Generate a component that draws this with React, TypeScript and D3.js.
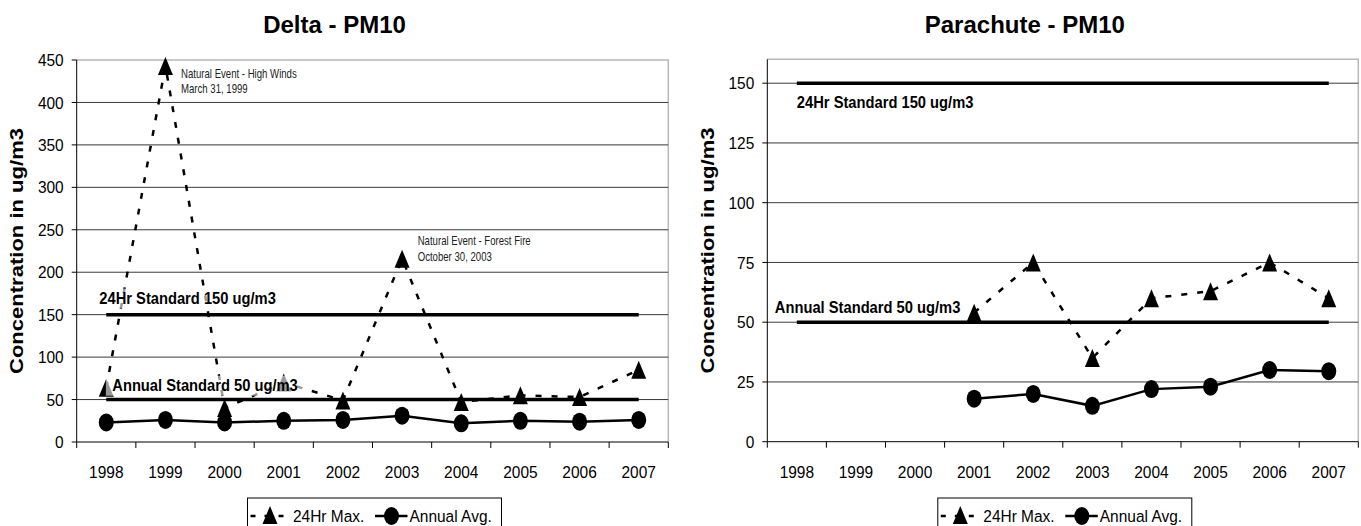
import React, { useLayoutEffect, useRef, useState } from 'react';
import * as d3 from 'd3';

const years = ['1998', '1999', '2000', '2001', '2002', '2003', '2004', '2005', '2006', '2007'];
const deltaMax: (number | null)[] = [64, 443, 40, 70, 49, 216, 47, 55, 53, 85];
const deltaAvg: (number | null)[] = [23, 26, 23, 25, 26, 31, 22, 25, 24, 26];
const parachuteMax: (number | null)[] = [null, null, null, 54, 75, 35, 60, 63, 75, 60];
const parachuteAvg: (number | null)[] = [null, null, null, 18, 20, 15, 22, 23, 30, 29.5];
const deltaTicks = [0, 50, 100, 150, 200, 250, 300, 350, 400, 450];
const parachuteTicks = [0, 25, 50, 75, 100, 125, 150];
const std24 = 150;
const stdAnnual = 50;
const std24Label = '24Hr Standard 150 ug/m3';
const stdAnnualLabel = 'Annual Standard 50 ug/m3';
const yTitle = 'Concentration in ug/m3';
const legendLabels = ['24Hr Max.', 'Annual Avg.'];
const deltaNotes = [
  { year: '1999', value: 429, lines: ['Natural Event - High Winds', 'March 31, 1999'] },
  { year: '2003', value: 232, lines: ['Natural Event - Forest Fire', 'October 30, 2003'] },
];

const FONT = '"Liberation Sans", Arial, Helvetica, sans-serif';
const DASH = '6,10';

function Tri({ x, y, w = 15, h = 18, fill = '#000' }: any) {
  return <path d={`M${x},${y - h / 2}L${x + w / 2},${y + h / 2}L${x - w / 2},${y + h / 2}Z`} fill={fill} />;
}

function NText({ x, y, children, anchor = 'start', size = 17, sx = 0.91, dy }: any) {
  return (
    <text
      transform={`translate(${x},${y}) scale(${sx},1)`}
      dy={dy}
      textAnchor={anchor}
      fontSize={size}
      fontFamily={FONT}
      fill="#000"
    >
      {children}
    </text>
  );
}

function BoxLabel({ x, y, text, sx = 0.92 }: any) {
  const ref = useRef<SVGTextElement>(null);
  const [w, setW] = useState(0);
  useLayoutEffect(() => {
    if (ref.current) setW(ref.current.getBBox().width);
  }, [text]);
  return (
    <g transform={`translate(${x},${y}) scale(${sx},1)`}>
      <rect x={-7} y={-15} width={w + 12} height={20} fill="#fff" opacity={0.6} />
      <text ref={ref} x={0} y={0} fontSize={16} fontWeight="bold" fill="#000" fontFamily={FONT}>
        {text}
      </text>
    </g>
  );
}

function Panel(props: any) {
  const { left, right, top, bottom, yMax, ticks, max, avg, title, notes, lab24, labAnn } = props;
  const x = d3.scaleBand().domain(years).range([left, right]).padding(0);
  const bw = x.bandwidth();
  const cx = (yr: string) => (x(yr) as number) + bw / 2;
  const y = d3.scaleLinear().domain([0, yMax]).range([bottom, top]);
  const line = d3
    .line<number | null>()
    .defined((d) => d != null)
    .x((_, i) => cx(years[i]))
    .y((d) => y(d as number));
  const stdLine = (v: number) => `M${cx(years[0])},${y(v)}H${cx(years[years.length - 1])}`;
  const plotCenter = (left + right) / 2;
  const boundaries = years.map((yr) => x(yr) as number).concat([right]);
  const legLeft = plotCenter + 2 - 127;
  const legTop = 498;
  return (
    <g>
      <text x={plotCenter - 38} y={33} textAnchor="middle" fontSize={24} fontWeight="bold" fontFamily={FONT}>
        {title}
      </text>
      {/* plot border */}
      <path d={`M${left},${top}H${right}V${bottom}`} fill="none" stroke="#b8b8b8" strokeWidth={1.5} />
      {ticks.map((t: number) =>
        t === 0 || y(t) <= top + 0.5 ? null : (
          <line key={'g' + t} x1={left} x2={right} y1={y(t)} y2={y(t)} stroke="#3a3a3a" strokeWidth={1} />
        )
      )}
      {/* axes */}
      <line x1={left} x2={left} y1={top} y2={bottom} stroke="#000" strokeWidth={1} />
      <line x1={left} x2={right} y1={bottom} y2={bottom} stroke="#000" strokeWidth={1} />
      {ticks.map((t: number) => (
        <g key={'t' + t}>
          <line x1={left - 5} x2={left} y1={y(t)} y2={y(t)} stroke="#000" />
          <NText x={left - 13} y={y(t)} dy="0.36em" anchor="end">
            {t}
          </NText>
        </g>
      ))}
      {boundaries.map((b: number, i: number) => (
        <line key={'xt' + i} x1={b} x2={b} y1={bottom} y2={bottom + 6} stroke="#000" />
      ))}
      {years.map((yr) => (
        <NText key={'xl' + yr} x={cx(yr)} y={478} anchor="middle">
          {yr}
        </NText>
      ))}
      <text
        transform={`translate(${left - 53.3},${(top + bottom) / 2}) rotate(-90)`}
        textAnchor="middle"
        fontSize={18}
        fontWeight="bold"
        fontFamily={FONT}
        textLength={246}
        lengthAdjust="spacingAndGlyphs"
      >
        {yTitle}
      </text>
      {/* standards */}
      <path d={stdLine(std24)} stroke="#000" strokeWidth={3.5} fill="none" />
      <path d={stdLine(stdAnnual)} stroke="#000" strokeWidth={3.5} fill="none" />
      {/* series */}
      <path d={line(max) || ''} fill="none" stroke="#000" strokeWidth={2.5} strokeDasharray={DASH} />
      <path d={line(avg) || ''} fill="none" stroke="#000" strokeWidth={2.5} />
      {avg.map((v: number | null, i: number) =>
        v == null ? null : <ellipse key={'c' + i} cx={cx(years[i])} cy={y(v)} rx={7.5} ry={9} fill="#000" />
      )}
      {max.map((v: number | null, i: number) => (v == null ? null : <Tri key={'m' + i} x={cx(years[i])} y={y(v)} />))}
      {/* notes */}
      {notes.map((n: any, k: number) => (
        <g key={'n' + k} transform={`translate(${cx(n.year) + 15.6},${y(n.value)}) scale(0.8,1)`}>
          {n.lines.map((l: string, j: number) => (
            <text key={j} x={0} y={j * 15.5} fontSize={12} fill="#222" fontFamily={FONT}>
              {l}
            </text>
          ))}
        </g>
      ))}
      <BoxLabel x={cx(years[0]) + lab24.dx} y={y(lab24.v)} text={std24Label} />
      <BoxLabel x={cx(years[0]) + labAnn.dx} y={y(labAnn.v)} text={stdAnnualLabel} />
      {/* legend */}
      <rect x={legLeft} y={legTop} width={254} height={40} fill="#fff" stroke="#000" strokeWidth={1} />
      <line x1={legLeft + 3} x2={legLeft + 42} y1={516} y2={516} stroke="#000" strokeWidth={2.5} strokeDasharray="5,9" />
      <Tri x={legLeft + 22.5} y={515} />
      <NText x={legLeft + 45.5} y={522}>
        {legendLabels[0]}
      </NText>
      <line x1={legLeft + 127.5} x2={legLeft + 160} y1={516} y2={516} stroke="#000" strokeWidth={2.5} />
      <ellipse cx={legLeft + 144} cy={516} rx={7.5} ry={9} fill="#000" />
      <NText x={legLeft + 162} y={522}>
        {legendLabels[1]}
      </NText>
    </g>
  );
}

export default function App() {
  return (
    <svg
      width={1361}
      height={526}
      style={{ position: 'absolute', left: 0, top: 0, background: '#fff' }}
      fontFamily={FONT}
    >
      <rect width={1361} height={526} fill="#fff" />
      <Panel
        left={76.7}
        right={668.3}
        top={60}
        bottom={442}
        yMax={450}
        ticks={deltaTicks}
        max={deltaMax}
        avg={deltaAvg}
        title="Delta - PM10"
        notes={deltaNotes}
        lab24={{ dx: -7, v: 163 }}
        labAnn={{ dx: 6, v: 60.4 }}
      />
      <Panel
        left={767.3}
        right={1358.3}
        top={59.3}
        bottom={441.7}
        yMax={160}
        ticks={parachuteTicks}
        max={parachuteMax}
        avg={parachuteAvg}
        title="Parachute - PM10"
        notes={[]}
        lab24={{ dx: 0, v: 139.6 }}
        labAnn={{ dx: -22, v: 54 }}
      />
    </svg>
  );
}
